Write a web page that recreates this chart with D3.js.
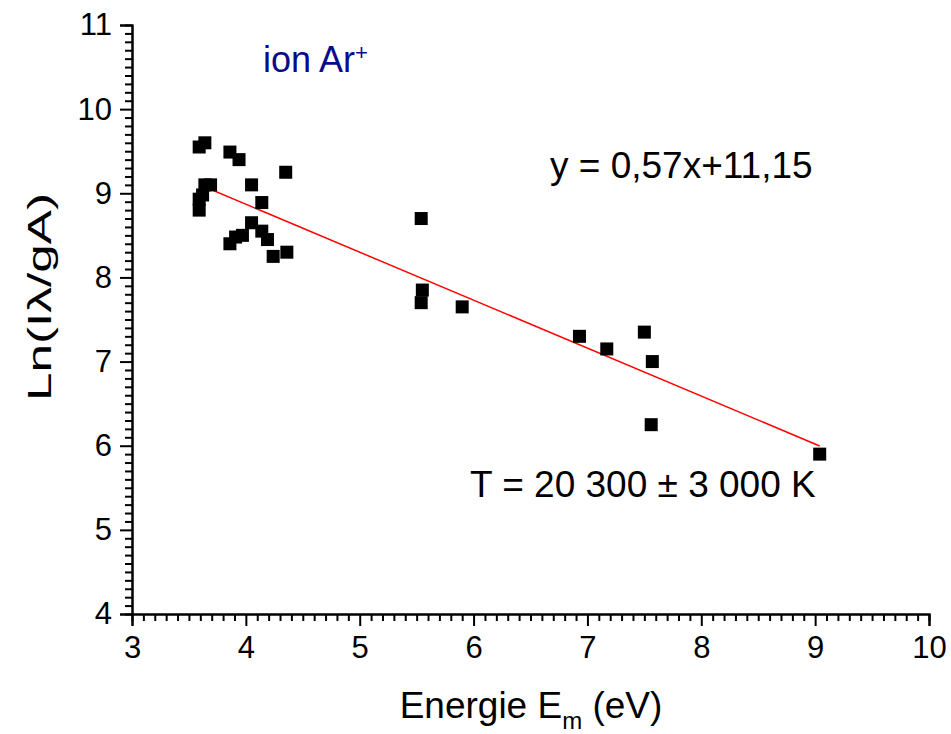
<!DOCTYPE html>
<html>
<head>
<meta charset="utf-8">
<script src="https://cdn.jsdelivr.net/npm/d3@7/dist/d3.min.js"></script>
<style>
  body { margin: 0; background: #fff; }
  text { font-family: "Liberation Sans", Arial, sans-serif; }
</style>
</head>
<body>
<div id="chart"></div>
<script>
// measured points (energy in eV, ln(I.lambda/gA))
const energy = [3.59, 3.64, 3.86, 3.94, 4.35, 4.05, 3.64, 3.69, 3.62, 3.59, 3.59,
                4.14, 4.05, 4.14, 4.19, 3.86, 3.91, 3.97, 4.24, 4.36,
                5.54, 5.55, 5.54, 5.90, 6.93, 7.17, 7.50, 7.57, 7.56, 9.04];
const lnValues = [9.55, 9.60, 9.49, 9.40, 9.25, 9.10, 9.10, 9.10, 8.98, 8.93, 8.80,
                  8.89, 8.65, 8.55, 8.45, 8.40, 8.48, 8.50, 8.25, 8.30,
                  8.70, 7.85, 7.70, 7.65, 7.30, 7.15, 7.35, 7.00, 6.25, 5.90];

// linear fit y = a*x + b
const fitSlope = -0.57;
const fitIntercept = 11.15;

const xTicks = [3, 4, 5, 6, 7, 8, 9, 10];
const yTicks = [4, 5, 6, 7, 8, 9, 10, 11];

const width = 951, height = 734;
const margin = { top: 25, right: 22, bottom: 120, left: 132 };

const svg = d3.select("#chart")
    .append("svg")
    .attr("width", width)
    .attr("height", height);

const x = d3.scaleLinear().domain([3, 10]).range([margin.left, width - margin.right]);
const y = d3.scaleLinear().domain([4, 11]).range([height - margin.bottom, margin.top]);

// minor ticks every 0.1
const xMinor = d3.range(30, 101).map(d => d / 10).filter(d => !xTicks.includes(d));
const yMinor = d3.range(40, 111).map(d => d / 10).filter(d => !yTicks.includes(d));

const xAxisG = svg.append("g").attr("transform", `translate(0,${y(4)})`);
xAxisG.call(d3.axisBottom(x).tickValues(xMinor).tickSize(7).tickFormat(""));
xAxisG.append("g").call(d3.axisBottom(x).tickValues(xTicks).tickSize(12).tickPadding(10)
    .tickFormat(d3.format("d")));

const yAxisG = svg.append("g").attr("transform", `translate(${x(3)},0)`);
yAxisG.call(d3.axisLeft(y).tickValues(yMinor).tickSize(7).tickFormat(""));
yAxisG.append("g").call(d3.axisLeft(y).tickValues(yTicks).tickSize(12).tickPadding(8)
    .tickFormat(d3.format("d")));

svg.selectAll(".domain").attr("stroke", "#000").attr("stroke-width", 2);
svg.selectAll(".tick line").attr("stroke", "#000").attr("stroke-width", 2);
svg.selectAll(".tick text").attr("fill", "#000").style("font-size", "31px");

// fit line across the data range
const xMin = d3.min(energy), xMax = d3.max(energy);
svg.append("line")
    .attr("x1", x(xMin)).attr("y1", y(fitSlope * xMin + fitIntercept))
    .attr("x2", x(xMax)).attr("y2", y(fitSlope * xMax + fitIntercept))
    .attr("stroke", "#ff0000")
    .attr("stroke-width", 1.5);

// square markers
const size = 13;
svg.selectAll(".pt")
    .data(energy.map((e, i) => ({ e: e, v: lnValues[i] })))
    .enter()
    .append("rect")
    .attr("class", "pt")
    .attr("x", d => x(d.e) - size / 2)
    .attr("y", d => y(d.v) - size / 2)
    .attr("width", size)
    .attr("height", size)
    .attr("fill", "#000");

// axis titles
const xTitle = svg.append("text")
    .attr("x", 531).attr("y", 718)
    .attr("text-anchor", "middle")
    .style("font-size", "37px");
xTitle.append("tspan").text("Energie E");
xTitle.append("tspan").attr("dy", 11).style("font-size", "24px").text("m");
xTitle.append("tspan").attr("dy", -11).text(" (eV)");

svg.append("text")
    .attr("transform", "translate(51,297) rotate(-90)")
    .attr("text-anchor", "middle")
    .attr("textLength", 208)
    .attr("lengthAdjust", "spacingAndGlyphs")
    .style("font-size", "34px")
    .text("Ln(Iλ/gA)");

// annotations
const ion = svg.append("text")
    .attr("x", 263).attr("y", 72)
    .attr("fill", "#0a0a8c")
    .style("font-size", "36px");
ion.append("tspan").text("ion Ar");
ion.append("tspan").attr("dy", -12).style("font-size", "22px").text("+");

svg.append("text")
    .attr("x", 550).attr("y", 178)
    .style("font-size", "37px")
    .text("y = 0,57x+11,15");

svg.append("text")
    .attr("x", 470).attr("y", 497)
    .style("font-size", "37px")
    .text("T = 20 300 ± 3 000 K");
</script>
</body>
</html>
